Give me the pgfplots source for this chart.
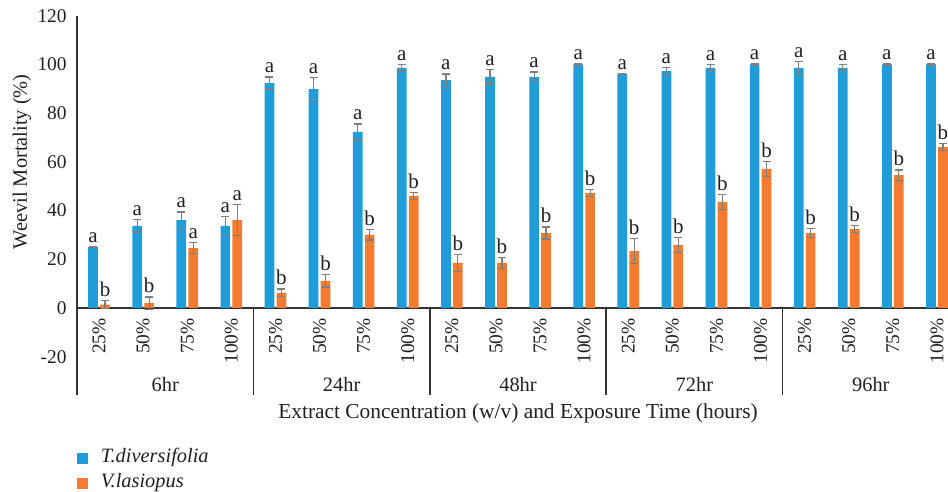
\documentclass[border=0pt]{standalone}
\usepackage{fontspec}
\setmainfont{Liberation Serif}
\usepackage{pgfplots}
\usepackage{pgfplotstable}
\pgfplotsset{compat=1.18}
\definecolor{tdblue}{HTML}{1F9DD9}
\definecolor{vlorange}{HTML}{F47B30}
\definecolor{errgray}{HTML}{7F7F7F}
\definecolor{txt}{HTML}{231F20}
\definecolor{axcol}{HTML}{333333}

\pgfplotstableread{
x v e l
0.5 25.0 0.3 a
1.5 33.7 2.5 a
2.5 36.1 3.3 a
3.5 33.7 4.0 a
4.5 92.4 2.5 a
5.5 89.9 4.6 a
6.5 72.3 3.3 a
7.5 98.6 1.3 a
8.5 93.6 2.5 a
9.5 94.9 2.9 a
10.5 94.9 2.0 a
11.5 100 0.2 a
12.5 96.1 0.2 a
13.5 97.3 1.4 a
14.5 98.6 1.4 a
15.5 100 0.2 a
16.5 98.6 2.7 a
17.5 98.6 1.4 a
18.5 100 0.2 a
19.5 100 0.2 a
}\tdtable

\pgfplotstableread{
x v e l
0.5 1.4 1.7 b
1.5 2.0 2.5 b
2.5 24.6 2.2 a
3.5 36.1 6.3 a
4.5 6.2 1.6 b
5.5 11.1 2.5 b
6.5 30.0 2.1 b
7.5 46.0 1.3 b
8.5 18.5 3.4 b
9.5 18.5 2.4 b
10.5 30.8 2.5 b
11.5 47.2 1.5 b
12.5 23.4 5.0 b
13.5 25.9 3.2 b
14.5 43.5 3.2 b
15.5 57.1 3.2 b
16.5 30.8 1.7 b
17.5 32.4 1.5 b
18.5 54.6 2.1 b
19.5 66.1 1.3 b
}\vltable

\newcommand{\tickfont}{\fontsize{9.7}{11}\selectfont}
\newcommand{\labfont}{\fontsize{10.2}{12}\selectfont}
\newcommand{\letfont}{\fontsize{10.5}{12}\selectfont}

\begin{document}
\begin{tikzpicture}
\begin{axis}[
  x=22.05pt, y=1.2175pt,
  anchor=origin, at={(0pt,0pt)},
  xmin=0, xmax=19.75, ymin=-20, ymax=120,
  axis x line*=middle, axis y line*=left,
  axis line style={-, draw=axcol, line width=0.75pt},
  clip=false,
  xtick={0.5,1.5,...,19.5},
  xticklabels={25\%,50\%,75\%,100\%,25\%,50\%,75\%,100\%,25\%,50\%,75\%,100\%,25\%,50\%,75\%,100\%,25\%,50\%,75\%,100\%},
  ytick={-20,0,...,120},
  major tick length=0pt,
  /pgf/number format/assume math mode=true,
  xticklabel style={rotate=90, anchor=east, inner xsep=5pt, inner ysep=0pt, font=\tickfont, text=txt},
  yticklabel style={font=\tickfont, text=txt, inner xsep=0pt, xshift=-5pt},
  legend style={at={(axis cs:0,-57.9)}, anchor=north west, draw=none, fill=none,
    inner sep=0pt, outer sep=0pt, font=\labfont\itshape, text=txt,
    nodes={inner sep=0pt, text height=7pt, text depth=2.2pt},
    row sep=3.3pt, column sep=6.5pt},
  legend cell align=left,
]
\addlegendimage{legend image code/.code={\fill[tdblue] (0pt,-2.5pt) rectangle (5pt,2.5pt);}}
\addlegendentry{T.diversifolia}
\addlegendimage{legend image code/.code={\fill[vlorange] (0pt,-2.5pt) rectangle (5pt,2.5pt);}}
\addlegendentry{V.lasiopus}

\addplot[forget plot, ybar, bar width=0.22, bar shift=0, fill=tdblue, draw=none,
  error bars/.cd, y dir=both, y explicit,
  error bar style={draw=errgray, line width=0.6pt},
  error mark options={rotate=90, mark size=2pt, draw=errgray, line width=0.6pt}]
  table[x expr=\thisrow{x}-0.135, y=v, y error=e] {\tdtable};
\addplot[forget plot, ybar, bar width=0.22, bar shift=0, fill=vlorange, draw=none,
  error bars/.cd, y dir=both, y explicit,
  error bar style={draw=errgray, line width=0.6pt},
  error mark options={rotate=90, mark size=2pt, draw=errgray, line width=0.6pt}]
  table[x expr=\thisrow{x}+0.135, y=v, y error=e] {\vltable};

\addplot[forget plot, draw=none, nodes near coords, point meta=explicit symbolic,
  every node near coord/.append style={inner sep=0pt, yshift=1.75pt, font=\letfont, text=txt}]
  table[x expr=\thisrow{x}-0.135, y expr=\thisrow{v}+\thisrow{e}, meta=l] {\tdtable};
\addplot[forget plot, draw=none, nodes near coords, point meta=explicit symbolic,
  every node near coord/.append style={inner sep=0pt, yshift=1.75pt, font=\letfont, text=txt}]
  table[x expr=\thisrow{x}+0.135, y expr=\thisrow{v}+\thisrow{e}, meta=l] {\vltable};

\draw[axcol, line width=0.75pt] (axis cs:0,-20) -- (axis cs:0,-35.7);
\pgfplotsinvokeforeach{4,8,12,16}{\draw[axcol, line width=0.75pt] (axis cs:#1,0) -- (axis cs:#1,-35.7);}

\node[anchor=base, font=\labfont, text=txt] at (axis cs:2,-34.3) {6hr};
\node[anchor=base, font=\labfont, text=txt] at (axis cs:6,-34.3) {24hr};
\node[anchor=base, font=\labfont, text=txt] at (axis cs:10,-34.3) {48hr};
\node[anchor=base, font=\labfont, text=txt] at (axis cs:14,-34.3) {72hr};
\node[anchor=base, font=\labfont, text=txt] at (axis cs:18,-34.3) {96hr};
\node[anchor=base, font=\fontsize{10.7}{12}\selectfont, text=txt] at (axis cs:10,-45.2) {Extract Concentration (w/v) and Exposure Time (hours)};
\node[rotate=90, font=\labfont, text=txt] at ([xshift=-27.5pt]axis cs:0,60) {Weevil Mortality (\%)};
\end{axis}
\pgfresetboundingbox
\path[use as bounding box] (-38.5pt,-92pt) rectangle (435.5pt,154pt);
\end{tikzpicture}
\end{document}
